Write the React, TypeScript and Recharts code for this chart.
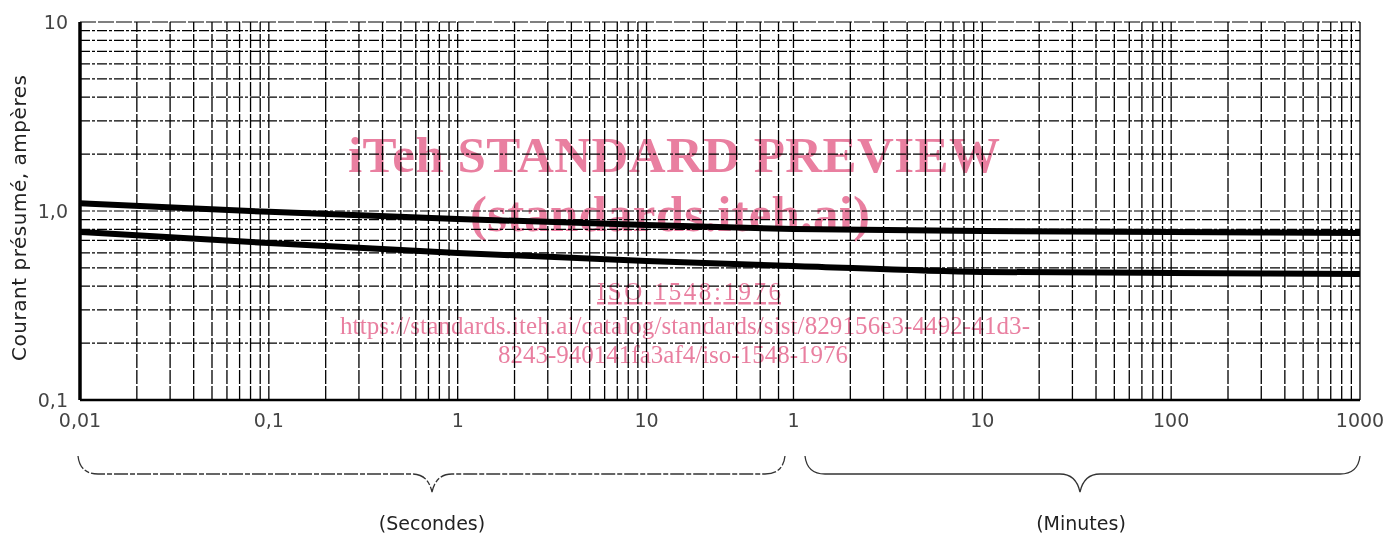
import React from "react";
import { LineChart, Line, XAxis, YAxis, ReferenceLine } from "recharts";

// temps en secondes (1 min = 60 s), courant en ampères
const curveTimes = [0.01, 0.1, 1, 10, 60, 600, 6000, 60000];
const upperAmps = [1.1, 0.99, 0.907, 0.843, 0.803, 0.784, 0.774, 0.765];
const lowerAmps = [0.774, 0.677, 0.6, 0.544, 0.512, 0.476, 0.47, 0.464];

const xTickValues = [0.01, 0.1, 1, 10, 60, 600, 6000, 60000];
const xTickLabels = ["0,01", "0,1", "1", "10", "1", "10", "100", "1000"];
const yTickValues = [0.1, 1, 10];
const yTickLabels = ["0,1", "1,0", "10"];

const upper = curveTimes.map((t, i) => ({ t, a: upperAmps[i] }));
const lower = curveTimes.map((t, i) => ({ t, a: lowerAmps[i] }));

// papier log : lignes 1..9 par décade
const steps = [1, 2, 3, 4, 5, 6, 7, 8, 9];
const gridX: number[] = [];
[0.01, 0.1, 1].forEach((d) => steps.forEach((s) => gridX.push(s * d)));
[10, 20, 30, 40, 50].forEach((s) => gridX.push(s));
[60, 600, 6000].forEach((d) => steps.forEach((s) => gridX.push(s * d)));
gridX.push(60000);
const gridY: number[] = [];
[0.1, 1].forEach((d) => steps.forEach((s) => gridY.push(s * d)));
gridY.push(10);

const pink = "#e97fa0";
const sans = "'DejaVu Sans', Verdana, sans-serif";
const serif = "'Liberation Serif', 'Times New Roman', serif";

export default function App() {
  return (
    <div style={{ position: "absolute", left: 0, top: 0, width: 1390, height: 538, background: "#fff" }}>
      <LineChart width={1390} height={538} margin={{ top: 22, right: 30, bottom: 108, left: 0 }}>
        {gridX.map((v) => (
          <ReferenceLine
            key={"x" + v}
            x={v}
            stroke="#000"
            strokeWidth={1.3}
            strokeDasharray={v === 60000 ? undefined : "14 2"}
            ifOverflow="visible"
          />
        ))}
        {gridY.map((v) => (
          <ReferenceLine
            key={"y" + v}
            y={v}
            stroke="#000"
            strokeWidth={1.2}
            strokeDasharray={v === 10 ? "16 2" : "10 2 3 2"}
            ifOverflow="visible"
          />
        ))}
        <XAxis
          dataKey="t"
          type="number"
          scale="log"
          domain={[0.01, 60000]}
          ticks={xTickValues}
          tickFormatter={(v) => xTickLabels[xTickValues.indexOf(v)]}
          allowDataOverflow
          height={30}
          tickLine={false}
          tickMargin={8}
          axisLine={{ stroke: "#000", strokeWidth: 2.5 }}
          tick={{ fontSize: 19, fill: "#444", fontFamily: sans }}
          interval={0}
        />
        <YAxis
          dataKey="a"
          type="number"
          scale="log"
          domain={[0.1, 10]}
          ticks={yTickValues}
          tickFormatter={(v) => yTickLabels[yTickValues.indexOf(v)]}
          allowDataOverflow
          width={80}
          tickLine={false}
          tickMargin={6}
          axisLine={{ stroke: "#000", strokeWidth: 3.5 }}
          tick={{ fontSize: 19, fill: "#444", fontFamily: sans }}
          interval={0}
        />
        <Line data={upper} dataKey="a" type="monotone" stroke="#000" strokeWidth={6} dot={false} isAnimationActive={false} />
        <Line data={lower} dataKey="a" type="monotone" stroke="#000" strokeWidth={6} dot={false} isAnimationActive={false} />
      </LineChart>

      <svg
        width={1390}
        height={538}
        style={{ position: "absolute", left: 0, top: 0, pointerEvents: "none", mixBlendMode: "multiply" }}
      >
        <text
          transform="translate(26 218) rotate(-90)"
          textAnchor="middle"
          fontFamily={sans}
          fontSize={20}
          textLength={286}
          fill="#222"
        >
          Courant présumé, ampères
        </text>

        <path
          d="M 78 456 Q 80 474 98 474 L 412 474 Q 428 474 432 492 Q 436 474 452 474 L 765 474 Q 783 474 785 456"
          fill="none"
          stroke="#333"
          strokeWidth={1.3}
          strokeDasharray="14 2 5 2"
        />
        <path
          d="M 805 456 Q 807 474 825 474 L 1060 474 Q 1076 474 1080 492 Q 1084 474 1100 474 L 1340 474 Q 1358 474 1360 456"
          fill="none"
          stroke="#333"
          strokeWidth={1.3}
        />
        <text x={432} y={530} textAnchor="middle" fontFamily={sans} fontSize={19} fill="#222">
          (Secondes)
        </text>
        <text x={1081} y={530} textAnchor="middle" fontFamily={sans} fontSize={19} fill="#222">
          (Minutes)
        </text>

        <g fill={pink} fontFamily={serif}>
          <text x={674} y={172} textAnchor="middle" fontSize={51} fontWeight="bold" textLength={652}>
            iTeh STANDARD PREVIEW
          </text>
          <text x={670} y={231} textAnchor="middle" fontSize={51} fontWeight="bold" textLength={400}>
            (standards.iteh.ai)
          </text>
          <text x={689} y={300} textAnchor="middle" fontSize={25} textDecoration="underline" textLength={184}>
            ISO 1548:1976
          </text>
          <text x={685} y={334} textAnchor="middle" fontSize={25} textLength={690}>
            https://standards.iteh.ai/catalog/standards/sist/829156e3-4492-41d3-
          </text>
          <text x={673} y={363} textAnchor="middle" fontSize={25} textLength={350}>
            8243-940141fa3af4/iso-1548-1976
          </text>
        </g>
      </svg>
    </div>
  );
}
